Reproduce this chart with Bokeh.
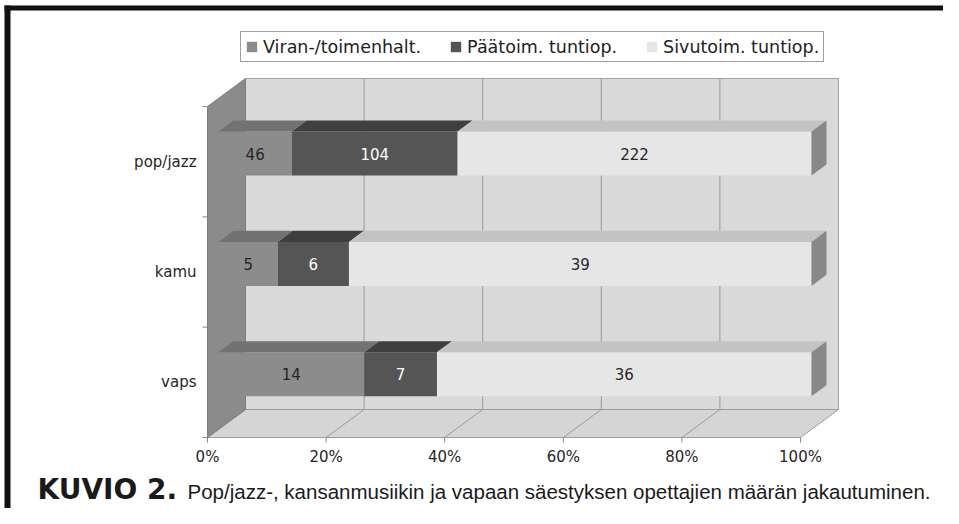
from bokeh.plotting import figure
from bokeh.models import Range1d, Legend, LegendItem
from bokeh.core.properties import value
from bokeh.embed import file_html
from bokeh.resources import INLINE

# ---------------- data ----------------
categories = ["vaps", "kamu", "pop/jazz"]          # bottom -> top
series_names = ["Viran-/toimenhalt.", "Päätoim. tuntiop.", "Sivutoim. tuntiop."]
viran = [14, 5, 46]
paatoim = [7, 6, 104]
sivutoim = [36, 39, 222]
x_ticks = [0, 20, 40, 60, 80, 100]
x_tick_labels = ["0%", "20%", "40%", "60%", "80%", "100%"]
caption_bold = "KUVIO 2."
caption_text = "Pop/jazz-, kansanmusiikin ja vapaan säestyksen opettajien määrän jakautuminen."

# ---------------- style ----------------
front_colors = ["#8c8c8c", "#555555", "#e6e6e6"]
top_colors = ["#727272", "#3f3f3f", "#c3c3c3"]
side_color = "#888888"
label_colors = ["#262626", "#ffffff", "#262626"]

# ---------------- layout ----------------
W, H = 943, 508
X0_PAGE, X100_PAGE = 207, 800
Y0_PAGE, YTOP_PAGE = 437, 106
ncat = len(categories)
PXU = (X100_PAGE - X0_PAGE) / 100.0
PYU = (Y0_PAGE - YTOP_PAGE) / ncat
x_start = -X0_PAGE / PXU
x_end = x_start + W / PXU
y_start = -(H - Y0_PAGE) / PYU
y_end = y_start + H / PYU


def X(px):
    return x_start + px / PXU


def Y(py):
    return y_end - py / PYU


def dxp(n):
    return n / PXU


def dyp(n):
    return n / PYU


DX, DY = dxp(38), dyp(28)
F1, F2 = 11 / 38, 26 / 38
BAR_HALF = dyp(22)

series = [viran, paatoim, sivutoim]
totals = [sum(s[i] for s in series) for i in range(ncat)]
pct = [[100.0 * s[i] / totals[i] for i in range(ncat)] for s in series]

p = figure(width=W, height=H, x_range=Range1d(x_start, x_end), y_range=Range1d(y_start, y_end),
           output_backend="svg", toolbar_location=None, x_axis_location=None, y_axis_location=None,
           min_border=0, min_border_left=0, min_border_right=0, min_border_top=0, min_border_bottom=0)
p.outline_line_color = None
p.background_fill_color = "white"
p.border_fill_color = "white"
p.xgrid.visible = False
p.ygrid.visible = False

# walls and floor
p.quad(left=[DX], right=[100 + DX], bottom=[DY], top=[ncat + DY],
       fill_color="#d9d9d9", line_color="#a3a3a3", line_width=1)
p.patch([0, 100, 100 + DX, DX], [0, 0, DY, DY], fill_color="#d5d5d5", line_color="#9c9c9c", line_width=1)
p.patch([0, DX, DX, 0], [0, DY, ncat + DY, ncat], fill_color="#8b8b8b", line_color="#7c7c7c", line_width=1)

inner = x_ticks[1:-1]
p.segment(x0=[t + DX for t in inner], y0=[DY] * len(inner), x1=[t + DX for t in inner],
          y1=[ncat + DY] * len(inner), line_color="#9a9a9a", line_width=1)
p.segment(x0=inner, y0=[0] * len(inner), x1=[t + DX for t in inner], y1=[DY] * len(inner),
          line_color="#9a9a9a", line_width=1)

# axis ticks
p.segment(x0=x_ticks, y0=[0] * len(x_ticks), x1=x_ticks, y1=[-dyp(5)] * len(x_ticks),
          line_color="#8a8a8a", line_width=1)
p.segment(x0=[0] * (ncat + 1), y0=list(range(ncat + 1)), x1=[-dxp(5)] * (ncat + 1), y1=list(range(ncat + 1)),
          line_color="#8a8a8a", line_width=1)
p.text(x=x_ticks, y=[Y(456)] * len(x_ticks), text=x_tick_labels, text_align="center",
       text_baseline="middle", text_font=value("DejaVu Sans"), text_font_size="15px", text_color="#262626")
p.text(x=[-dxp(11)] * ncat, y=[k + 0.5 for k in range(ncat)], text=categories, text_align="right",
       text_baseline="middle", text_font=value("DejaVu Sans"), text_font_size="15px", text_color="#262626")

# bars
front_renderers = []
cum = [0.0] * ncat
for si in range(len(series)):
    lefts = [cum[i] for i in range(ncat)]
    rights = [cum[i] + pct[si][i] for i in range(ncat)]
    cy = [k + 0.5 for k in range(ncat)]
    r = p.quad(left=[l + DX * F1 for l in lefts], right=[rr + DX * F1 for rr in rights],
               bottom=[c - BAR_HALF + DY * F1 for c in cy], top=[c + BAR_HALF + DY * F1 for c in cy],
               fill_color=front_colors[si], line_color=None)
    front_renderers.append(r)
    xs = [[l + DX * F1, rr + DX * F1, rr + DX * F2, l + DX * F2] for l, rr in zip(lefts, rights)]
    ys = [[c + BAR_HALF + DY * F1, c + BAR_HALF + DY * F1, c + BAR_HALF + DY * F2, c + BAR_HALF + DY * F2]
          for c in cy]
    p.patches(xs, ys, fill_color=top_colors[si], line_color=None)
    if si == len(series) - 1:
        sx = [[rr + DX * F1, rr + DX * F2, rr + DX * F2, rr + DX * F1] for rr in rights]
        sy = [[c - BAR_HALF + DY * F1, c - BAR_HALF + DY * F2, c + BAR_HALF + DY * F2, c + BAR_HALF + DY * F1]
              for c in cy]
        p.patches(sx, sy, fill_color=side_color, line_color=None)
    p.text(x=[(l + rr) / 2 + DX * F1 for l, rr in zip(lefts, rights)], y=[c + DY * F1 for c in cy],
           text=[str(v) for v in series[si]], text_align="center", text_baseline="middle",
           text_font=value("DejaVu Sans"), text_font_size="15px", text_color=label_colors[si])
    cum = rights

# legend
legend = Legend(items=[LegendItem(label=series_names[i], renderers=[front_renderers[i]]) for i in range(3)],
                orientation="horizontal", location=(240, H - 62), margin=0, padding=4, spacing=28,
                label_standoff=5, glyph_width=13, glyph_height=13, label_height=21,
                label_text_font="DejaVu Sans", label_text_font_size="17.5px", label_text_color="#222222",
                border_line_color="#404040", border_line_width=1, background_fill_color="white",
                background_fill_alpha=1.0)
p.add_layout(legend)

# caption
p.text(x=[X(37)], y=[Y(489)], text=[caption_bold], text_align="left", text_baseline="middle",
       text_font=value("DejaVu Sans"), text_font_style="bold", text_font_size="28px", text_color="#1a1a1a")
p.text(x=[X(187)], y=[Y(491)], text=[caption_text], text_align="left", text_baseline="middle",
       text_font=value("Liberation Sans"), text_font_size="20.5px", text_color="#1a1a1a")

# frame border (top and left)
p.quad(left=[X(4), X(4)], right=[X(W), X(10)], top=[Y(5), Y(5)], bottom=[Y(10), Y(H)],
       fill_color="#111111", line_color=None)

open("out.html", "w").write(file_html(p, INLINE))
